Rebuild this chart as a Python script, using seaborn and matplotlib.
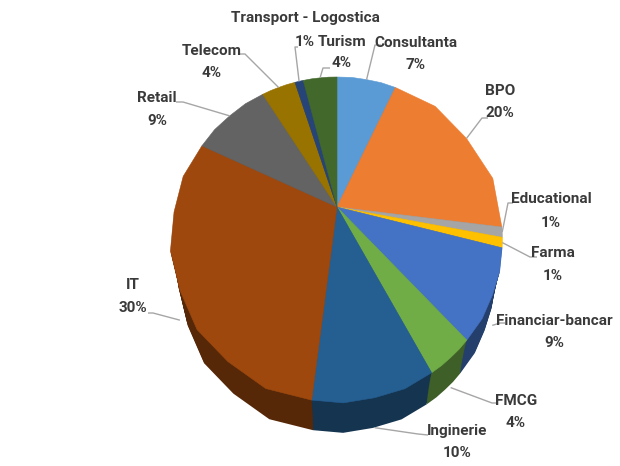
# plot.py
# 3D-looking pie chart of sectors (share of companies per domain)

import numpy as np
import matplotlib
matplotlib.use("Agg")
import matplotlib.pyplot as plt
import seaborn as sns
from matplotlib.path import Path
from matplotlib.transforms import Transform, Affine2D

# data
sectors = ["Consultanta", "BPO", "Educational", "Farma", "Financiar-bancar", "FMCG",
           "Inginerie", "IT", "Retail", "Telecom", "Transport - Logostica", "Turism"]
shares = [7, 20, 1, 1, 9, 4, 10, 30, 9, 4, 1, 4]
sector_colors = ["#5B9BD5", "#ED7D31", "#A5A5A5", "#FFC000", "#4472C4", "#70AD47",
                 "#255E91", "#9E480E", "#636363", "#997300", "#264478", "#43682B"]

# label layout: x centre, y of name line, y of percent line, leader elbow, leader end at text
label_pos = {
    "Consultanta": (416, 43, 65, (375, 45), (381, 45)),
    "BPO": (500, 91, 113, (482, 118), (488, 118)),
    "Educational": (551, 199, 223, (508, 203), (513, 203)),
    "Farma": (553, 253, 276, (530, 257), (537, 257)),
    "Financiar-bancar": (554, 321, 343, (500, 323), (505, 323)),
    "FMCG": (516, 401, 423, (492, 403), (498, 403)),
    "Inginerie": (457, 431, 453, (418, 434), (428, 435)),
    "IT": (133, 285, 308, (153, 313), (148, 313)),
    "Retail": (157, 98, 121, (183, 102), (176, 102)),
    "Telecom": (212, 51, 73, (245, 54), (240, 54)),
    "Transport - Logostica": (305, 18, 42, (295, 47), (298, 47)),
    "Turism": (342, 42, 63, (323, 68), (330, 68)),
}

CX, CY = 337, 207   # pie centre on the picture
DEPTH = 30          # height of the pie side at its near edge, pixels
SHRINK = 0.95       # bottom face looks a bit smaller (further away)
LAYERS = 30


class Tilt(Transform):
    """Perspective view of the unit pie (near edge at the bottom looks bigger)."""
    input_dims = 2
    output_dims = 2
    is_separable = False
    has_inverse = False

    def __init__(self, cx, cy, rx, ry, k):
        super().__init__()
        self.cx, self.cy, self.rx, self.ry, self.k = cx, cy, rx, ry, k

    def transform_non_affine(self, values):
        xy = np.asarray(values, dtype=float).reshape(-1, 2)
        u, v = xy[:, 0], xy[:, 1]
        d = 1 + self.k * v
        return np.column_stack([self.cx + self.rx * u / d, self.cy - self.ry * v / d])

    def transform_path_non_affine(self, path):
        verts = np.vstack(path.to_polygons(closed_only=False))
        return Path(self.transform_non_affine(verts))


def darker(hex_color, f):
    r, g, b = matplotlib.colors.to_rgb(hex_color)
    return (r * f, g * f, b * f)


def main():
    sns.set_theme(style="white")
    plt.rcParams['font.family'] = ['Roboto', 'DejaVu Sans']

    palette = sns.color_palette(sector_colors)
    side_palette = [darker(c, 0.55) for c in sector_colors]

    fig = plt.figure(figsize=(6.2, 4.66), dpi=100)
    ax = fig.add_axes([0, 0, 1, 1])

    ry_near = 195  # distance centre -> near edge of the top face
    tilt = Tilt(CX, CY, 162, 156, 0.2)

    # side of the pie: stacked copies, each a bit lower and smaller, drawn first
    for i in range(LAYERS, 0, -1):
        t = i / LAYERS
        s = 1 - (1 - SHRINK) * t
        shift = t * (DEPTH + ry_near * (1 - s))
        layer = Affine2D().translate(-CX, -CY).scale(s).translate(CX, CY + shift)
        wedges, _ = ax.pie(shares, colors=side_palette, startangle=90, counterclock=False,
                           wedgeprops=dict(linewidth=0))
        for w in wedges:
            w.set_transform(tilt + layer + ax.transData)

    # top face
    wedges, _ = ax.pie(shares, colors=palette, startangle=90, counterclock=False,
                       wedgeprops=dict(linewidth=0.4))
    for w, c in zip(wedges, palette):
        w.set_edgecolor(c)
        w.set_transform(tilt + ax.transData)

    # labels with leader lines
    total = sum(shares)
    start = 0
    for name, val in zip(sectors, shares):
        mid = (start + val / 2) / total * 2 * np.pi
        start += val
        u, v = np.sin(mid), np.cos(mid)
        ax_x, ax_y = tilt.transform_non_affine([[u, v]])[0]
        if v < -0.3:
            ax_y += DEPTH
        tx, ty_name, ty_pct, elbow, end = label_pos[name]
        ax.plot([ax_x, elbow[0], end[0]], [ax_y, elbow[1], end[1]],
                color="#a6a6a6", linewidth=1.0, solid_capstyle="butt")
        for txt, ty in ((name, ty_name), (f"{val}%", ty_pct)):
            ax.text(tx, ty, txt, ha="center", va="center",
                    fontsize=11, fontweight="bold", color="#3a3a3a")

    ax.set_xlim(0, 620)
    ax.set_ylim(466, 0)
    ax.set_aspect("auto")
    ax.axis("off")

    fig.savefig("out.png", dpi=100)


if __name__ == "__main__":
    main()
